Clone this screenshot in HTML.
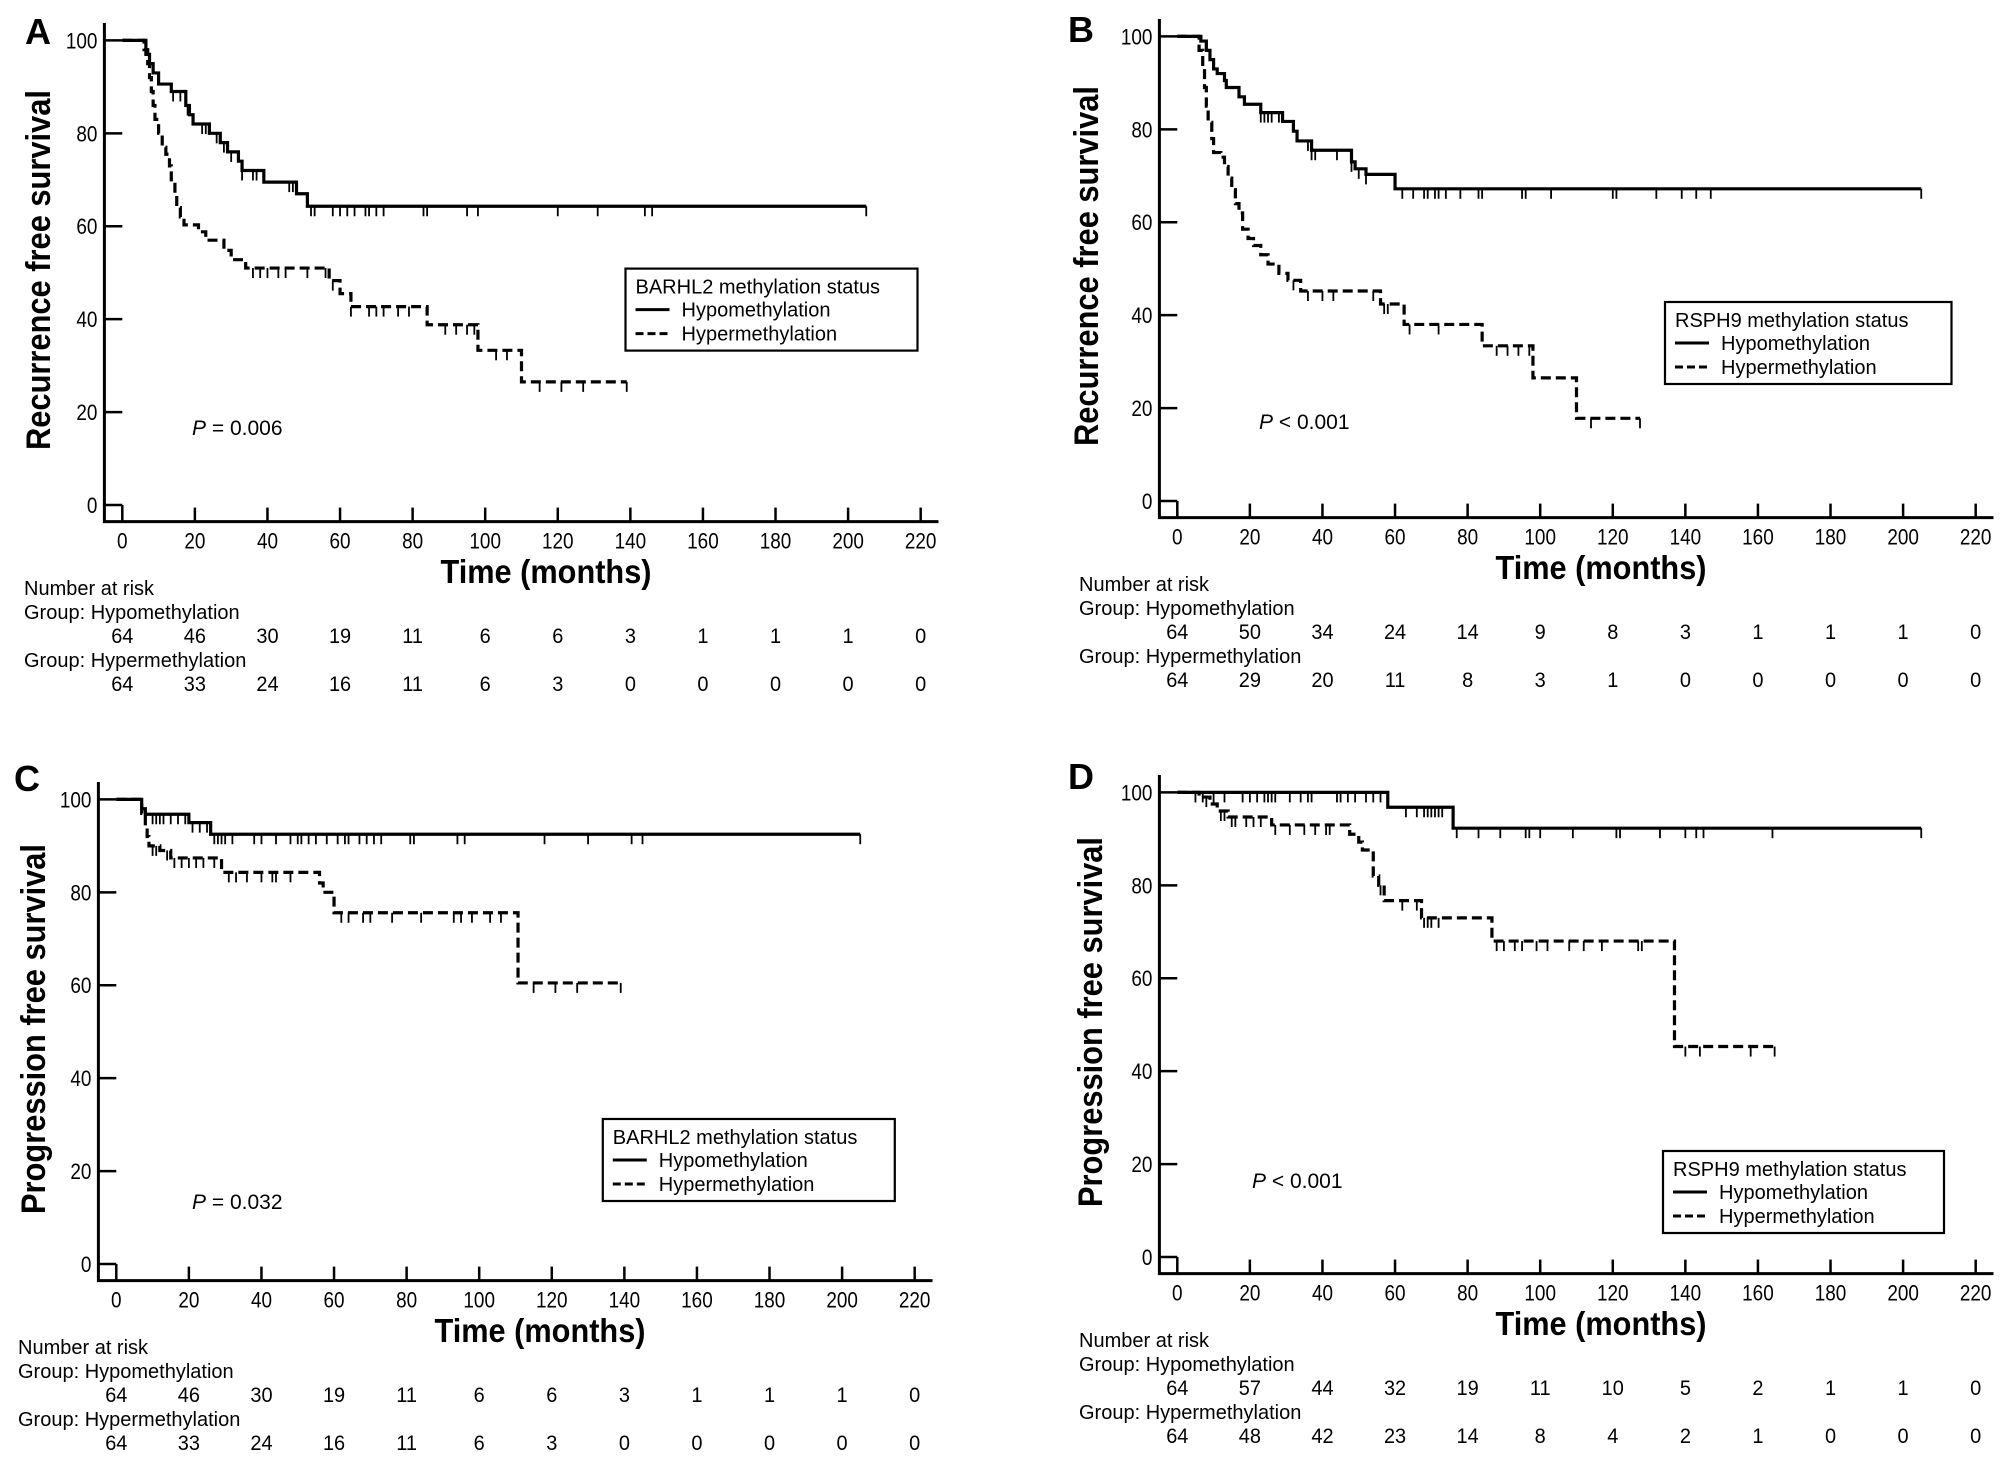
<!DOCTYPE html>
<html><head><meta charset="utf-8"><style>
html,body{margin:0;padding:0;background:#fff}
svg{display:block}
text{font-family:"Liberation Sans",Arial,sans-serif;fill:#000}
</style></head><body>
<svg id="fig" width="2008" height="1463" viewBox="0 0 2008 1463" xmlns="http://www.w3.org/2000/svg"></svg>
<script>
// ---------- data ----------
const xTicks = [0,20,40,60,80,100,120,140,160,180,200,220];
const yTicks = [0,20,40,60,80,100];

// Panel A
const aHypoSteps = [[0,100],[6.5,97],[7.5,95],[8.5,93],[10,90.6],[13.5,89],[17.5,86],[18.5,84],[19.5,82],[24,80],[27,78],[29,76],[32,74],[33,72],[39,69.5],[48,67],[51,64.3]];
const aHypoEnd = 205;
const aHypoCens = [14,16,18,22,23,26,28,30,33,36,37,46,47,52,53,58,60,62,64,67,68,70,72,83,84,95,98,120,131,144,146,205];
const aHyperSteps = [[0,100],[6,98],[7,95],[7.5,92],[8,89],[8.5,86],[9,83],[10,80],[11,77],[12,75.5],[13,73],[13.5,70],[14.5,67],[15,64],[16,62],[17,60.3],[21,58.8],[23,57],[28,54.8],[30,52.8],[34,51],[57,48.3],[60,45.5],[63,42.7],[84,38.8],[98,33.3],[110,26.5]];
const aHyperEnd = 139;
const aHyperCens = [36,38,40,43,45,51,56,58,63,68,70,72,76,79,89,92,95,97,103,106,115,121,127,139];
const aRiskHypo = [64,46,30,19,11,6,6,3,1,1,1,0];
const aRiskHyper = [64,33,24,16,11,6,3,0,0,0,0,0];

// Panel B
const bHypoSteps = [[0,100],[6.5,99],[8,97],[9,95],[10,93],[11,92],[13,90.5],[13.5,89],[17,87],[18.5,85.4],[23,83.6],[29,81.7],[32,79.6],[33,77.5],[37,75.5],[48,73],[49,71.5],[52,70.3],[60,67.2]];
const bHypoEnd = 205;
const bHypoCens = [23,24,25,26,28,36,37,38,44,48,50,52,62,65,68,69,71,72,74,78,83,84,95,96,103,120,121,132,139,143,147,205];
const bHyperSteps = [[0,100],[6,97],[7,93],[7.5,89],[8,85],[8.5,81.5],[9.5,78],[10,75],[12,74],[13,72],[14,69.5],[15,67],[16,64],[17,62],[18,58.5],[19.5,56.5],[21,55],[23,53],[25,51],[28,49],[30.5,47.5],[34,45.2],[56,42.4],[62.5,38],[84,33.4],[98,26.5],[110,17.8]];
const bHyperEnd = 127.5;
const bHyperCens = [32,36,40,43,54,57,58,64,72,88,91,94,97,114,127.5];
const bRiskHypo = [64,50,34,24,14,9,8,3,1,1,1,0];
const bRiskHyper = [64,29,20,11,8,3,1,0,0,0,0,0];

// Panel C
const cHypoSteps = [[0,100],[7,98],[8,96.8],[20,95],[26,92.5]];
const cHypoEnd = 205;
const cHypoCens = [8,10,11,12,13,15,17,19,21,23,25,27,28,29,30,32,38,40,44,48,50,51,53,55,58,61,63,64,67,69,71,73,81,82,94,96,118,130,142,145,205];
const cHyperSteps = [[0,100],[7,97],[8,94],[8.5,92],[9,90],[12,89],[15,87.4],[29,84.3],[56,82],[57,80],[60,75.6],[110.7,60.5]];
const cHyperEnd = 139;
const cHyperCens = [10,11,14,16,18,20,22,24,27,31,33,36,40,43,44,48,62,64,68,70,76,84,93,95,98,103,106,115,121,127,139];
const cRiskHypo = [64,46,30,19,11,6,6,3,1,1,1,0];
const cRiskHyper = [64,33,24,16,11,6,3,0,0,0,0,0];

// Panel D
const dHypoSteps = [[0,100],[58,96.8],[76,92.3]];
const dHypoEnd = 205;
const dHypoCens = [5,7,10,13,18,20,22,24,25,26,27,31,34,36,37,44,45,47,49,52,54,56,63,66,68,69,70,71,72,73,77,83,89,96,97,100,109,121,122,133,140,143,145,164,205];
const dHyperSteps = [[0,100],[6,99],[9,97.5],[11,96],[14,94.7],[26,93],[47.5,91],[50,89.3],[51,87.6],[54,82],[55.5,80],[57,76.7],[67.3,73],[86.7,68],[137,45.3]];
const dHyperEnd = 164.6;
const dHyperCens = [8,12,13,15,16,19,21,23,27,31,35,38,41,42,56,62,66,68,69,70,72,88,90,93,95,99,102,108,112,117,127,128,140,144,158,164.6];
const dRiskHypo = [64,57,44,32,19,11,10,5,2,1,1,0];
const dRiskHyper = [64,48,42,23,14,8,4,2,1,0,0,0];

// ---------- drawing ----------
const NS = "http://www.w3.org/2000/svg";
const svg = document.getElementById('fig');
function mk(tag, attrs, parent){
  const e = document.createElementNS(NS, tag);
  for (const k in attrs) e.setAttribute(k, attrs[k]);
  (parent||svg).appendChild(e);
  return e;
}
function txt(parent, x, y, s, size, opts){
  opts = opts || {};
  const sx = opts.sx || 0.86;
  const t = mk('text', {x:0, y:0, 'font-size':size, transform:`translate(${x},${y}) scale(${sx},1)`}, parent);
  if (opts.anchor) t.setAttribute('text-anchor', opts.anchor);
  if (opts.bold) t.setAttribute('font-weight', 'bold');
  if (opts.italic) t.setAttribute('font-style', 'italic');
  t.textContent = s;
  return t;
}

const X0 = 122.3, PXM = 3.629, Y0 = 505, PXS = 4.646;
const AXX = 104.4, AXY = 521.6, AXTOP = 23, AXR = 938.5;
const xs = m => X0 + m * PXM;
const ys = s => Y0 - s * PXS;

function survAt(steps, t){
  let s = 100;
  for (const st of steps) if (st[0] <= t) s = st[1];
  return s;
}

function panel(cfg){
  const g = mk('g', {transform:`translate(${cfg.dx},${cfg.dy})`});
  
  

  const lt = txt(g, cfg.lx, cfg.ly, cfg.letter, 36, {bold:true, sx:1});
  
  

  const ax = mk('path', {d:`M${AXX},${AXTOP} V${AXY} H${AXR}`, fill:'none', stroke:'#000', 'stroke-width':3}, g);
  
  
  for (const v of xTicks){
    const x = xs(v);
    const tk = mk('line', {x1:x, x2:x, y1: v===0 ? Y0 : AXY-14, y2:AXY, stroke:'#000','stroke-width':2.5}, g);
    
    
    const tl = txt(g, x, AXY+27, String(v), 22, {anchor:'middle'});
    
    
  }
  for (const v of yTicks){
    const y = ys(v);
    const tk = mk('line', {x1:AXX, x2:X0, y1:y, y2:y, stroke:'#000','stroke-width':2.5}, g);
    
    
    const tl = txt(g, AXX-7, y+8, String(v), 22, {anchor:'end'});
    
    
  }
  const xt = mk('text', {x:546, y:583, 'font-size':33, 'font-weight':'bold', 'text-anchor':'middle', textLength:211, lengthAdjust:'spacingAndGlyphs'}, g);
  xt.textContent = 'Time (months)';
  
  
  const yt = mk('text', {x:0, y:0, 'font-size':34, 'font-weight':'bold', 'text-anchor':'middle', textLength:cfg.ylen, lengthAdjust:'spacingAndGlyphs', transform:`translate(${cfg.ylx},270) rotate(-90)`}, g);
  yt.textContent = cfg.ylabel;
  
  

  function curve(steps, end, cens, dashed, name){
    let d = `M${xs(0)},${ys(100)}`;
    for (let i = 1; i < steps.length; i++){
      d += ` H${xs(steps[i][0])} V${ys(steps[i][1])}`;
    }
    d += ` H${xs(end)}`;
    const p = mk('path', {d, fill:'none', stroke:'#000', 'stroke-width':3.2}, g);
    if (dashed) p.setAttribute('stroke-dasharray', '10 5');
    
    
    for (const c of cens){
      const y = ys(survAt(steps, c));
      const cm = mk('line', {x1:xs(c), x2:xs(c), y1:y, y2:y+10, stroke:'#000', 'stroke-width':1.8}, g);
      
      
    }
  }
  curve(cfg.hypo, cfg.hypoEnd, cfg.hypoCens, false, 'hypomethylation');
  curve(cfg.hyper, cfg.hyperEnd, cfg.hyperCens, true, 'hypermethylation');

  const lg = mk('g', {transform:`translate(${cfg.legX},${cfg.legY})`}, g);
  
  
  mk('rect', {x:0, y:0, width:cfg.legW, height:82, fill:'#fff', stroke:'#000', 'stroke-width':2.2}, lg);
  const lt1 = txt(lg, 10, 25, cfg.gene + ' methylation status', 20, {sx:1});
  
  
  mk('line', {x1:10, x2:44, y1:41, y2:41, stroke:'#000', 'stroke-width':3}, lg);
  const e1 = txt(lg, 56, 48, 'Hypomethylation', 20, {sx:1});
  
  
  mk('line', {x1:10, x2:44, y1:65, y2:65, stroke:'#000', 'stroke-width':3, 'stroke-dasharray':'8 4'}, lg);
  const e2 = txt(lg, 56, 72, 'Hypermethylation', 20, {sx:1});
  
  

  const pt = mk('text', {x:0, y:0, 'font-size':21, transform:`translate(${cfg.px},${cfg.py+7}) scale(1,1)`}, g);
  const pi = mk('tspan', {'font-style':'italic'}, pt); pi.textContent = 'P';
  const pr = mk('tspan', {}, pt); pr.textContent = ' ' + cfg.pval;
  
  

  const rt = mk('g', {}, g);
  
  
  txt(rt, 24, 595, 'Number at risk', 20, {sx:1});
  txt(rt, 24, 619, 'Group: Hypomethylation', 20, {sx:1});
  txt(rt, 24, 667, 'Group: Hypermethylation', 20, {sx:1});
  xTicks.forEach((v, i) => {
    const n1 = txt(rt, xs(v), 643, String(cfg.riskHypo[i]), 21, {anchor:'middle', sx:0.95});
    
    
    const n2 = txt(rt, xs(v), 691, String(cfg.riskHyper[i]), 21, {anchor:'middle', sx:0.95});
    
    
  });
}

panel({letter:'A', dx:0, dy:0, lx:25, ly:44, ylabel:'Recurrence free survival', ylen:360, ylx:50,
  hypo:aHypoSteps, hypoEnd:aHypoEnd, hypoCens:aHypoCens, hyper:aHyperSteps, hyperEnd:aHyperEnd, hyperCens:aHyperCens,
  legX:625.5, legY:268.6, legW:292, gene:'BARHL2', px:192, py:428, pval:'= 0.006', riskHypo:aRiskHypo, riskHyper:aRiskHyper});
panel({letter:'B', dx:1055, dy:-4, lx:13, ly:46, ylabel:'Recurrence free survival', ylen:360, ylx:43,
  hypo:bHypoSteps, hypoEnd:bHypoEnd, hypoCens:bHypoCens, hyper:bHyperSteps, hyperEnd:bHyperEnd, hyperCens:bHyperCens,
  legX:610, legY:306, legW:286.5, gene:'RSPH9', px:204, py:426, pval:'< 0.001', riskHypo:bRiskHypo, riskHyper:bRiskHyper});
panel({letter:'C', dx:-6, dy:759, lx:20, ly:32, ylabel:'Progression free survival', ylen:370, ylx:51,
  hypo:cHypoSteps, hypoEnd:cHypoEnd, hypoCens:cHypoCens, hyper:cHyperSteps, hyperEnd:cHyperEnd, hyperCens:cHyperCens,
  legX:608.8, legY:360, legW:292, gene:'BARHL2', px:198, py:443, pval:'= 0.032', riskHypo:cRiskHypo, riskHyper:cRiskHyper});
panel({letter:'D', dx:1055, dy:752, lx:13, ly:37, ylabel:'Progression free survival', ylen:370, ylx:47,
  hypo:dHypoSteps, hypoEnd:dHypoEnd, hypoCens:dHypoCens, hyper:dHyperSteps, hyperEnd:dHyperEnd, hyperCens:dHyperCens,
  legX:608, legY:399, legW:281, gene:'RSPH9', px:197, py:429, pval:'< 0.001', riskHypo:dRiskHypo, riskHyper:dRiskHyper});
</script>
</body></html>
